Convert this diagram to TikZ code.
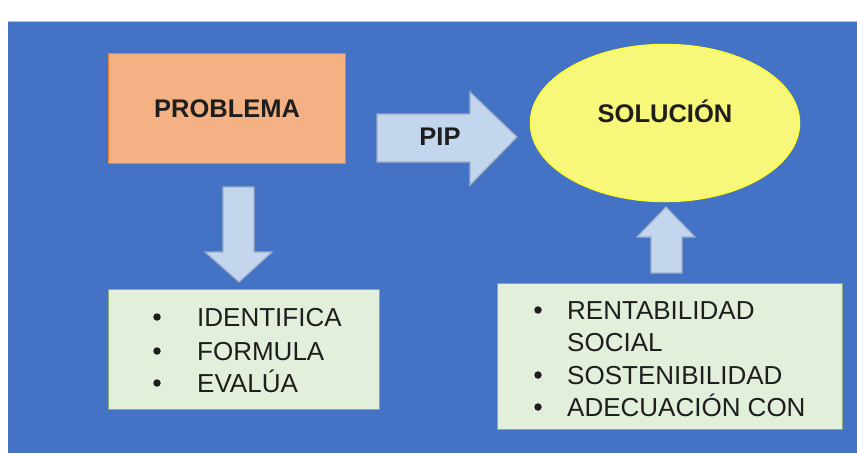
\documentclass[tikz,border=0pt]{standalone}
\usepackage{fontspec}
\setmainfont{Liberation Sans}
\usetikzlibrary{shapes.geometric}
\definecolor{bgblue}{HTML}{4472C4}
\definecolor{probfill}{HTML}{F4B183}
\definecolor{probdraw}{HTML}{ED7D31}
\definecolor{solfill}{HTML}{F7F77A}
\definecolor{soldraw}{HTML}{FFFF33}
\definecolor{arrfill}{HTML}{C3D6EE}
\definecolor{arrdraw}{HTML}{9DAFC6}
\definecolor{boxfill}{HTML}{E2EFDA}
\definecolor{boxdraw}{HTML}{8DAE78}
\definecolor{ink}{HTML}{1E1E1E}
\tikzset{
  bigtxt/.style={font=\fontsize{26}{30}\selectfont, text=ink, inner sep=0pt},
  boldtxt/.style={font=\fontsize{25.5}{30}\selectfont\bfseries, text=ink},
  dotmark/.style={circle, fill=ink, inner sep=0pt, minimum size=7.5pt},
  blockarrow/.style={fill=arrfill, draw=arrdraw, line width=1.2pt, line join=miter},
  listbox/.style={fill=boxfill, draw=boxdraw, line width=1.2pt},
}
\begin{document}
\begin{tikzpicture}[x=1pt,y=-1pt]
\useasboundingbox (0,0) rectangle (857,453);
\fill[white] (0,0) rectangle (857,453);
\fill[bgblue] (8,21) rectangle (857,453);
\draw[gray!50, line width=1pt] (8,21) -- (857,21);

% PROBLEMA
\node[boldtxt, fill=probfill, draw=probdraw, line width=1.2pt, minimum width=237pt, minimum height=110pt, anchor=north west] (prob) at (108,53) {PROBLEMA};

% SOLUCION
\node[boldtxt, ellipse, fill=solfill, draw=soldraw, line width=1.5pt, minimum width=269pt, minimum height=157pt, inner sep=0pt, text height=18pt, text depth=20pt] (sol) at (665,123) {SOLUCIÓN};

% list boxes
\node[listbox, minimum width=271pt, minimum height=120pt, anchor=north west] (lbox) at (108,289) {};
\node[listbox, minimum width=345pt, minimum height=146pt, anchor=north west] (rbox) at (497,283) {};

% arrows
\draw[blockarrow] (223,187) -- (254,187) -- (254,252) -- (272,252) -- (239,282) -- (205,252) -- (223,252) -- cycle;
\draw[blockarrow] (377,114) -- (470,114) -- (470,92) -- (517,137) -- (470,185) -- (470,162) -- (377,162) -- cycle;
\draw[blockarrow] (651,273) -- (682,273) -- (682,237) -- (695,237) -- (666,207) -- (637,237) -- (651,237) -- cycle;
\node[boldtxt] (pip) at (440,137) {PIP};

% left list
\node[dotmark] (lb1) at (157,317) {};
\node[bigtxt, anchor=base west] (lt1) at (197,326) {IDENTIFICA};
\node[dotmark] (lb2) at (157,351) {};
\node[bigtxt, anchor=base west] (lt2) at (197,360) {FORMULA};
\node[dotmark] (lb3) at (157,383) {};
\node[bigtxt, anchor=base west] (lt3) at (197,392) {EVALÚA};

% right list
\node[dotmark] (rb1) at (538,310) {};
\node[bigtxt, anchor=base west] (rt1) at (567,319) {RENTABILIDAD};
\node[bigtxt, anchor=base west] (rt1b) at (567,351) {SOCIAL};
\node[dotmark] (rb2) at (538,375) {};
\node[bigtxt, anchor=base west] (rt2) at (567,384) {SOSTENIBILIDAD};
\node[dotmark] (rb3) at (538,407) {};
\node[bigtxt, anchor=base west] (rt3) at (567,416) {ADECUACIÓN CON};
\end{tikzpicture}
\end{document}
